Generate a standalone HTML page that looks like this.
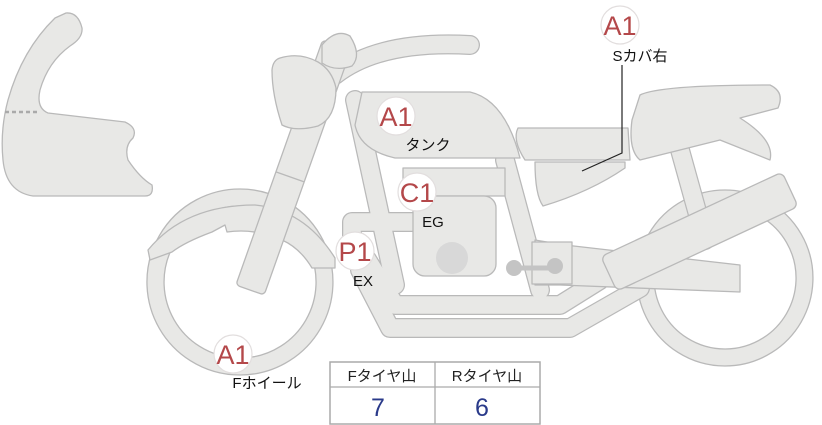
<!DOCTYPE html>
<html><head><meta charset="utf-8"><style>
body{margin:0;background:#fff;width:822px;height:425px;overflow:hidden;font-family:"Liberation Sans","Noto Sans CJK JP",sans-serif}
</style></head><body>
<svg width="822" height="425" viewBox="0 0 822 425" xmlns="http://www.w3.org/2000/svg" style="position:absolute;left:0;top:0">
<g fill="#e8e8e6" stroke="#b9b9b9" stroke-width="1.3" stroke-linejoin="round">
<path d="M66,13 Q78,12 82,28 Q83,38 70,46 Q48,62 40,90 Q36,108 48,113 L125,122 Q138,128 133,138 Q124,146 128,160 Q140,178 152,185 Q154,196 145,196 L33,196 Q6,192 3,160 Q0,130 8,100 Q22,50 55,18 Z"/>
<path fill-rule="evenodd" d="M725,190 A88,88 0 1 1 724.9,190 Z M725,207 A71,71 0 1 0 725.1,207 Z"/>
<path fill-rule="evenodd" d="M240,189 A93,93 0 1 1 239.9,189 Z M240,206 A76,76 0 1 0 240.1,206 Z"/>
<path d="M148,250 Q185,205 255,205 Q305,210 335,258 L335,268 L312,268 Q300,248 282,240 Q255,228 227,232 L225,225 L212,232 Q185,242 172,252 L150,260 Z"/>
</g>
<g fill="none" stroke-linecap="round" stroke-linejoin="round">
<g stroke="#b9b9b9" stroke-width="20">
<path d="M355,100 L395,285"/>
<path d="M505,160 L540,290"/>
<path d="M680,150 L705,240"/>
<path d="M352,236 L352,222 L415,222"/>
<path d="M355,240 L395,305 L560,305 L600,280"/>
<path d="M360,270 L390,328 L570,328 L640,288"/>
<path d="M335,75 Q380,40 470,45"/>
</g>
<g stroke="#e8e8e6" stroke-width="17.5">
<path d="M355,100 L395,285"/>
<path d="M505,160 L540,290"/>
<path d="M680,150 L705,240"/>
<path d="M352,236 L352,222 L415,222"/>
<path d="M355,240 L395,305 L560,305 L600,280"/>
<path d="M360,270 L390,328 L570,328 L640,288"/>
<path d="M335,75 Q380,40 470,45"/>
</g>
</g>
<g fill="#e8e8e6" stroke="#b9b9b9" stroke-width="1.3" stroke-linejoin="round">
<g transform="translate(250,290) rotate(-70.5)">
<rect x="0" y="-15" width="260" height="30" rx="4"/>
<line x1="120" y1="-15" x2="120" y2="15"/>
</g>
<path d="M280,58 Q300,52 318,62 Q332,70 336,88 Q336,118 318,126 Q295,132 282,125 Q272,95 272,70 Q273,60 280,58 Z"/>
<path d="M322,45 Q336,28 350,36 Q362,55 352,66 Q335,72 322,63 Z"/>
<path d="M362,92 L470,92 Q505,100 520,158 L395,158 Q360,150 355,125 Z"/>
<rect x="403" y="168" width="102" height="28"/>
<rect x="413" y="196" width="83" height="80" rx="12"/>
<path d="M535,240 L565,245 L740,265 L740,292 L560,285 L535,285 Z"/>
<rect x="532" y="242" width="40" height="42"/>
<path d="M535,162 L625,162 L625,168 Q590,192 543,206 Q535,195 535,162 Z"/>
<path d="M518,128 L628,128 L630,160 L525,160 Q512,140 518,128 Z"/>
<path d="M640,95 Q660,85 770,85 Q785,92 778,108 L740,118 Q775,140 770,160 L720,140 L640,160 Q628,150 632,120 Z"/>
<g transform="translate(608,272) rotate(-25)">
<rect x="0" y="-17" width="200" height="38" rx="6"/>
</g>
</g>
<circle cx="452" cy="258" r="16" fill="#d8d8d8"/>
<g stroke="#c4c4c4" stroke-width="5"><line x1="514" y1="268" x2="556" y2="268"/></g>
<circle cx="514" cy="268" r="8" fill="#c4c4c4"/><circle cx="555" cy="266" r="8" fill="#c4c4c4"/>
<line x1="5" y1="112" x2="40" y2="112" stroke="#aaa" stroke-width="2.5" stroke-dasharray="4,3"/>
<path d="M622,65 L622,153 L582,171" fill="none" stroke="#222" stroke-width="1.2"/>
<g fill="#fff" stroke="#e2dede" stroke-width="1.2">
<circle cx="620" cy="25" r="19"/><circle cx="396" cy="116" r="19"/><circle cx="417" cy="192" r="19"/><circle cx="355" cy="251" r="19"/><circle cx="233" cy="354" r="19"/>
</g>
<g fill="#b4484a" font-size="27" text-anchor="middle" font-family="Liberation Sans,sans-serif">
<text x="620" y="35">A1</text><text x="396" y="126">A1</text><text x="417" y="202">C1</text><text x="355" y="261">P1</text><text x="233" y="364">A1</text>
</g>
<g fill="#111" font-size="15" text-anchor="middle">
<text x="640" y="61">Sカバ右</text><text x="428" y="150">タンク</text><text x="433" y="227">EG</text><text x="363" y="286">EX</text><text x="267" y="388">Fホイール</text>
</g>
<rect x="330" y="362" width="210" height="62" fill="#fff" stroke="#aaa" stroke-width="1.5"/>
<line x1="330" y1="387" x2="540" y2="387" stroke="#aaa" stroke-width="1.3"/>
<line x1="435" y1="362" x2="435" y2="424" stroke="#aaa" stroke-width="1.3"/>
<g font-size="15" fill="#222" text-anchor="middle"><text x="382" y="381">Fタイヤ山</text><text x="487" y="381">Rタイヤ山</text></g>
<g font-size="25" fill="#2a3a8a" text-anchor="middle"><text x="378" y="416">7</text><text x="482" y="416">6</text></g>
</svg>
</body></html>
